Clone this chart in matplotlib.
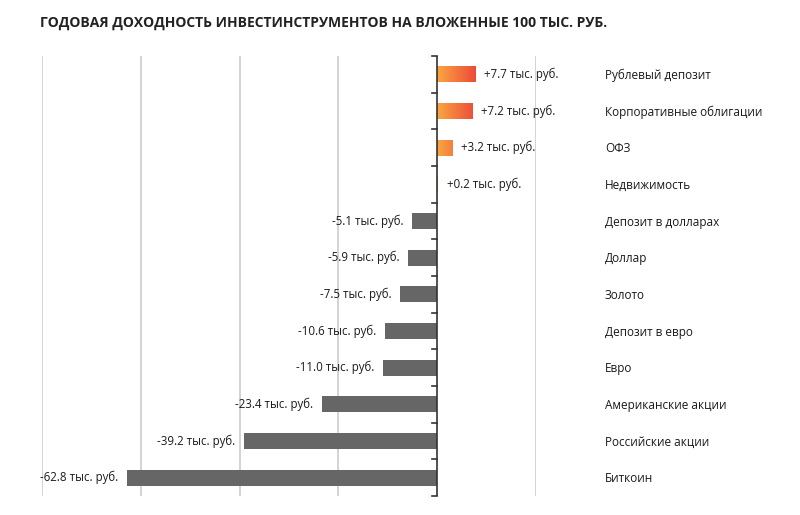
import matplotlib
matplotlib.use("Agg")
import matplotlib.pyplot as plt
import numpy as np
from matplotlib.colors import LinearSegmentedColormap
from matplotlib.patches import Rectangle

plt.rcParams['font.family'] = ['Open Sans', 'DejaVu Sans']

categories = ["Рублевый депозит", "Корпоративные облигации", "ОФЗ", "Недвижимость",
              "Депозит в долларах", "Доллар", "Золото", "Депозит в евро", "Евро",
              "Американские акции", "Российские акции", "Биткоин"]
values = [7.7, 7.2, 3.2, 0.2, -5.1, -5.9, -7.5, -10.6, -11.0, -23.4, -39.2, -62.8]
value_labels = ["+7.7 тыс. руб.", "+7.2 тыс. руб.", "+3.2 тыс. руб.", "+0.2 тыс. руб.",
                "-5.1 тыс. руб.", "-5.9 тыс. руб.", "-7.5 тыс. руб.", "-10.6 тыс. руб.",
                "-11.0 тыс. руб.", "-23.4 тыс. руб.", "-39.2 тыс. руб.", "-62.8 тыс. руб."]
title = "ГОДОВАЯ ДОХОДНОСТЬ ИНВЕСТИНСТРУМЕНТОВ НА ВЛОЖЕННЫЕ 100 ТЫС. РУБ."

W, H = 800, 515
fig = plt.figure(figsize=(W/100, H/100), dpi=100)
fig.patch.set_facecolor("white")
ax = fig.add_axes([42/W, 1-496/H, (536-42)/W, (496-56)/H])
n = len(categories)
y = np.arange(n)

for s in ax.spines.values():
    s.set_visible(False)
ax.set_xticks([-80, -60, -40, -20, 20])
ax.xaxis.grid(True, color="#c8c8c8", linewidth=1.1)
ax.tick_params(axis='x', length=0, labelbottom=False)
ax.set_yticks([])
ax.set_axisbelow(True)

cmap = LinearSegmentedColormap.from_list("og", ["#F9A641", "#EE4A3A"])
bh = 0.43
vmax = max(values)
for yi, v in zip(y, values):
    if v >= 0:
        if v > 0:
            rect = Rectangle((0, yi - bh/2), v, bh, facecolor="none", edgecolor="none")
            ax.add_patch(rect)
            grad = np.linspace(0, v / vmax, 256).reshape(1, -1)
            im = ax.imshow(grad, cmap=cmap, vmin=0, vmax=1, aspect='auto',
                           extent=[0, v, yi + bh/2, yi - bh/2], zorder=2)
            im.set_clip_path(rect)
    else:
        ax.barh(yi, v, height=bh, color="#666666", zorder=2)

ax.set_xlim(-80, 20)
ax.set_ylim(n - 0.5, -0.5)

# zero axis
ax.axvline(0, color="#333333", linewidth=1.2, zorder=3)
for b in np.arange(-0.5, n + 0.5, 1.0):
    ax.plot([-1.1, 0], [b, b], color="#333333", linewidth=1.2, zorder=3, clip_on=False)

for yi, v, lab in zip(y, values, value_labels):
    if v >= 0:
        ax.text(v + 1.7, yi, lab, ha="left", va="center", fontsize=8.3, color="#1a1a1a",
                fontweight="medium")
    else:
        ax.text(v - 1.7, yi, lab, ha="right", va="center", fontsize=8.3, color="#1a1a1a",
                fontweight="medium")

px_per_unit = (536 - 42) / 100.0
label_x = -80 + (605 - 42) / px_per_unit
for yi, c in zip(y, categories):
    ax.text(label_x, yi + 0.03, c, ha="left", va="center", fontsize=8.5, color="#1a1a1a",
            fontweight="medium", clip_on=False)

fig.text(40/W, 1-23/H, title, ha="left", va="center", fontsize=10,
         fontweight="bold", color="#222222")

fig.savefig("out.png", dpi=100, facecolor="white")
